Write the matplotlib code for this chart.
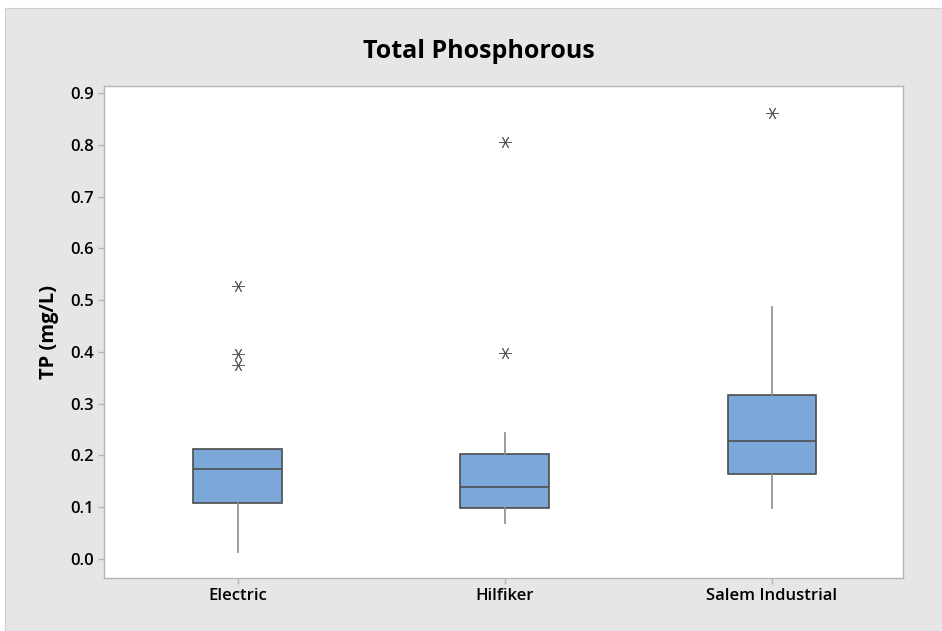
import matplotlib
matplotlib.use("Agg")
import matplotlib.pyplot as plt
from matplotlib.patches import Rectangle

sites = ["Electric", "Hilfiker", "Salem Industrial"]
whisker_low = [0.013, 0.070, 0.099]
q1 = [0.108, 0.098, 0.165]
median = [0.173, 0.139, 0.227]
q3 = [0.212, 0.202, 0.316]
whisker_high = [0.212, 0.243, 0.486]
outliers = [[0.528, 0.395, 0.375], [0.805, 0.397], [0.862]]

BOX_COLOR = "#7BA7D9"
EDGE_COLOR = "#4d4d4d"
BG_COLOR = "#e6e6e6"

plt.rcParams['font.family'] = ['Open Sans', 'DejaVu Sans']

fig = plt.figure(figsize=(9.42, 6.31), dpi=100)
fig.patch.set_facecolor("white")
fig.patches.append(Rectangle((5 / 942, 0), 1, 1 - 8 / 631, transform=fig.transFigure,
                             facecolor=BG_COLOR, edgecolor="#d0d0d0", lw=0.8, zorder=-1))

ax = fig.add_axes([104 / 942, 53 / 631, 799 / 942, 492 / 631])
ax.set_facecolor("white")

stats = []
for i in range(len(sites)):
	stats.append({
		"label": sites[i],
		"whislo": whisker_low[i],
		"q1": q1[i],
		"med": median[i],
		"q3": q3[i],
		"whishi": whisker_high[i],
		"fliers": outliers[i],
	})

ax.bxp(stats, positions=[1, 2, 3], widths=0.332, patch_artist=True, showcaps=False,
	boxprops=dict(facecolor=BOX_COLOR, edgecolor=EDGE_COLOR, linewidth=1.2),
	medianprops=dict(color=EDGE_COLOR, linewidth=1.2),
	whiskerprops=dict(color="#8a8a8a", linewidth=1.2),
	flierprops=dict(marker=(6, 2, 90), markersize=9, markeredgecolor="#606060",
	                markerfacecolor="none", markeredgewidth=0.7, linestyle="none"))

ax.set_xlim(0.5, 3.49)
ax.set_ylim(-0.0367, 0.9135)
ax.set_yticks([i / 10 for i in range(10)])
ax.set_yticklabels(["%.1f" % (i / 10) for i in range(10)])
ax.set_xticks([1, 2, 3])
ax.set_xticklabels(sites)

for spine in ax.spines.values():
	spine.set_color("#b5b5b5")
	spine.set_linewidth(1.0)
ax.tick_params(axis="both", colors="#b5b5b5", labelcolor="black", labelsize=12, length=4, width=1)
for lab in ax.get_xticklabels() + ax.get_yticklabels():
	lab.set_fontweight("semibold")

ax.set_ylabel("TP (mg/L)", fontsize=14.5, fontweight="bold", labelpad=8)
fig.text(0.508, 1 - 52 / 631, "Total Phosphorous", ha="center", va="center",
	fontsize=18, fontweight="bold")

plt.savefig("out.png", dpi=100)
